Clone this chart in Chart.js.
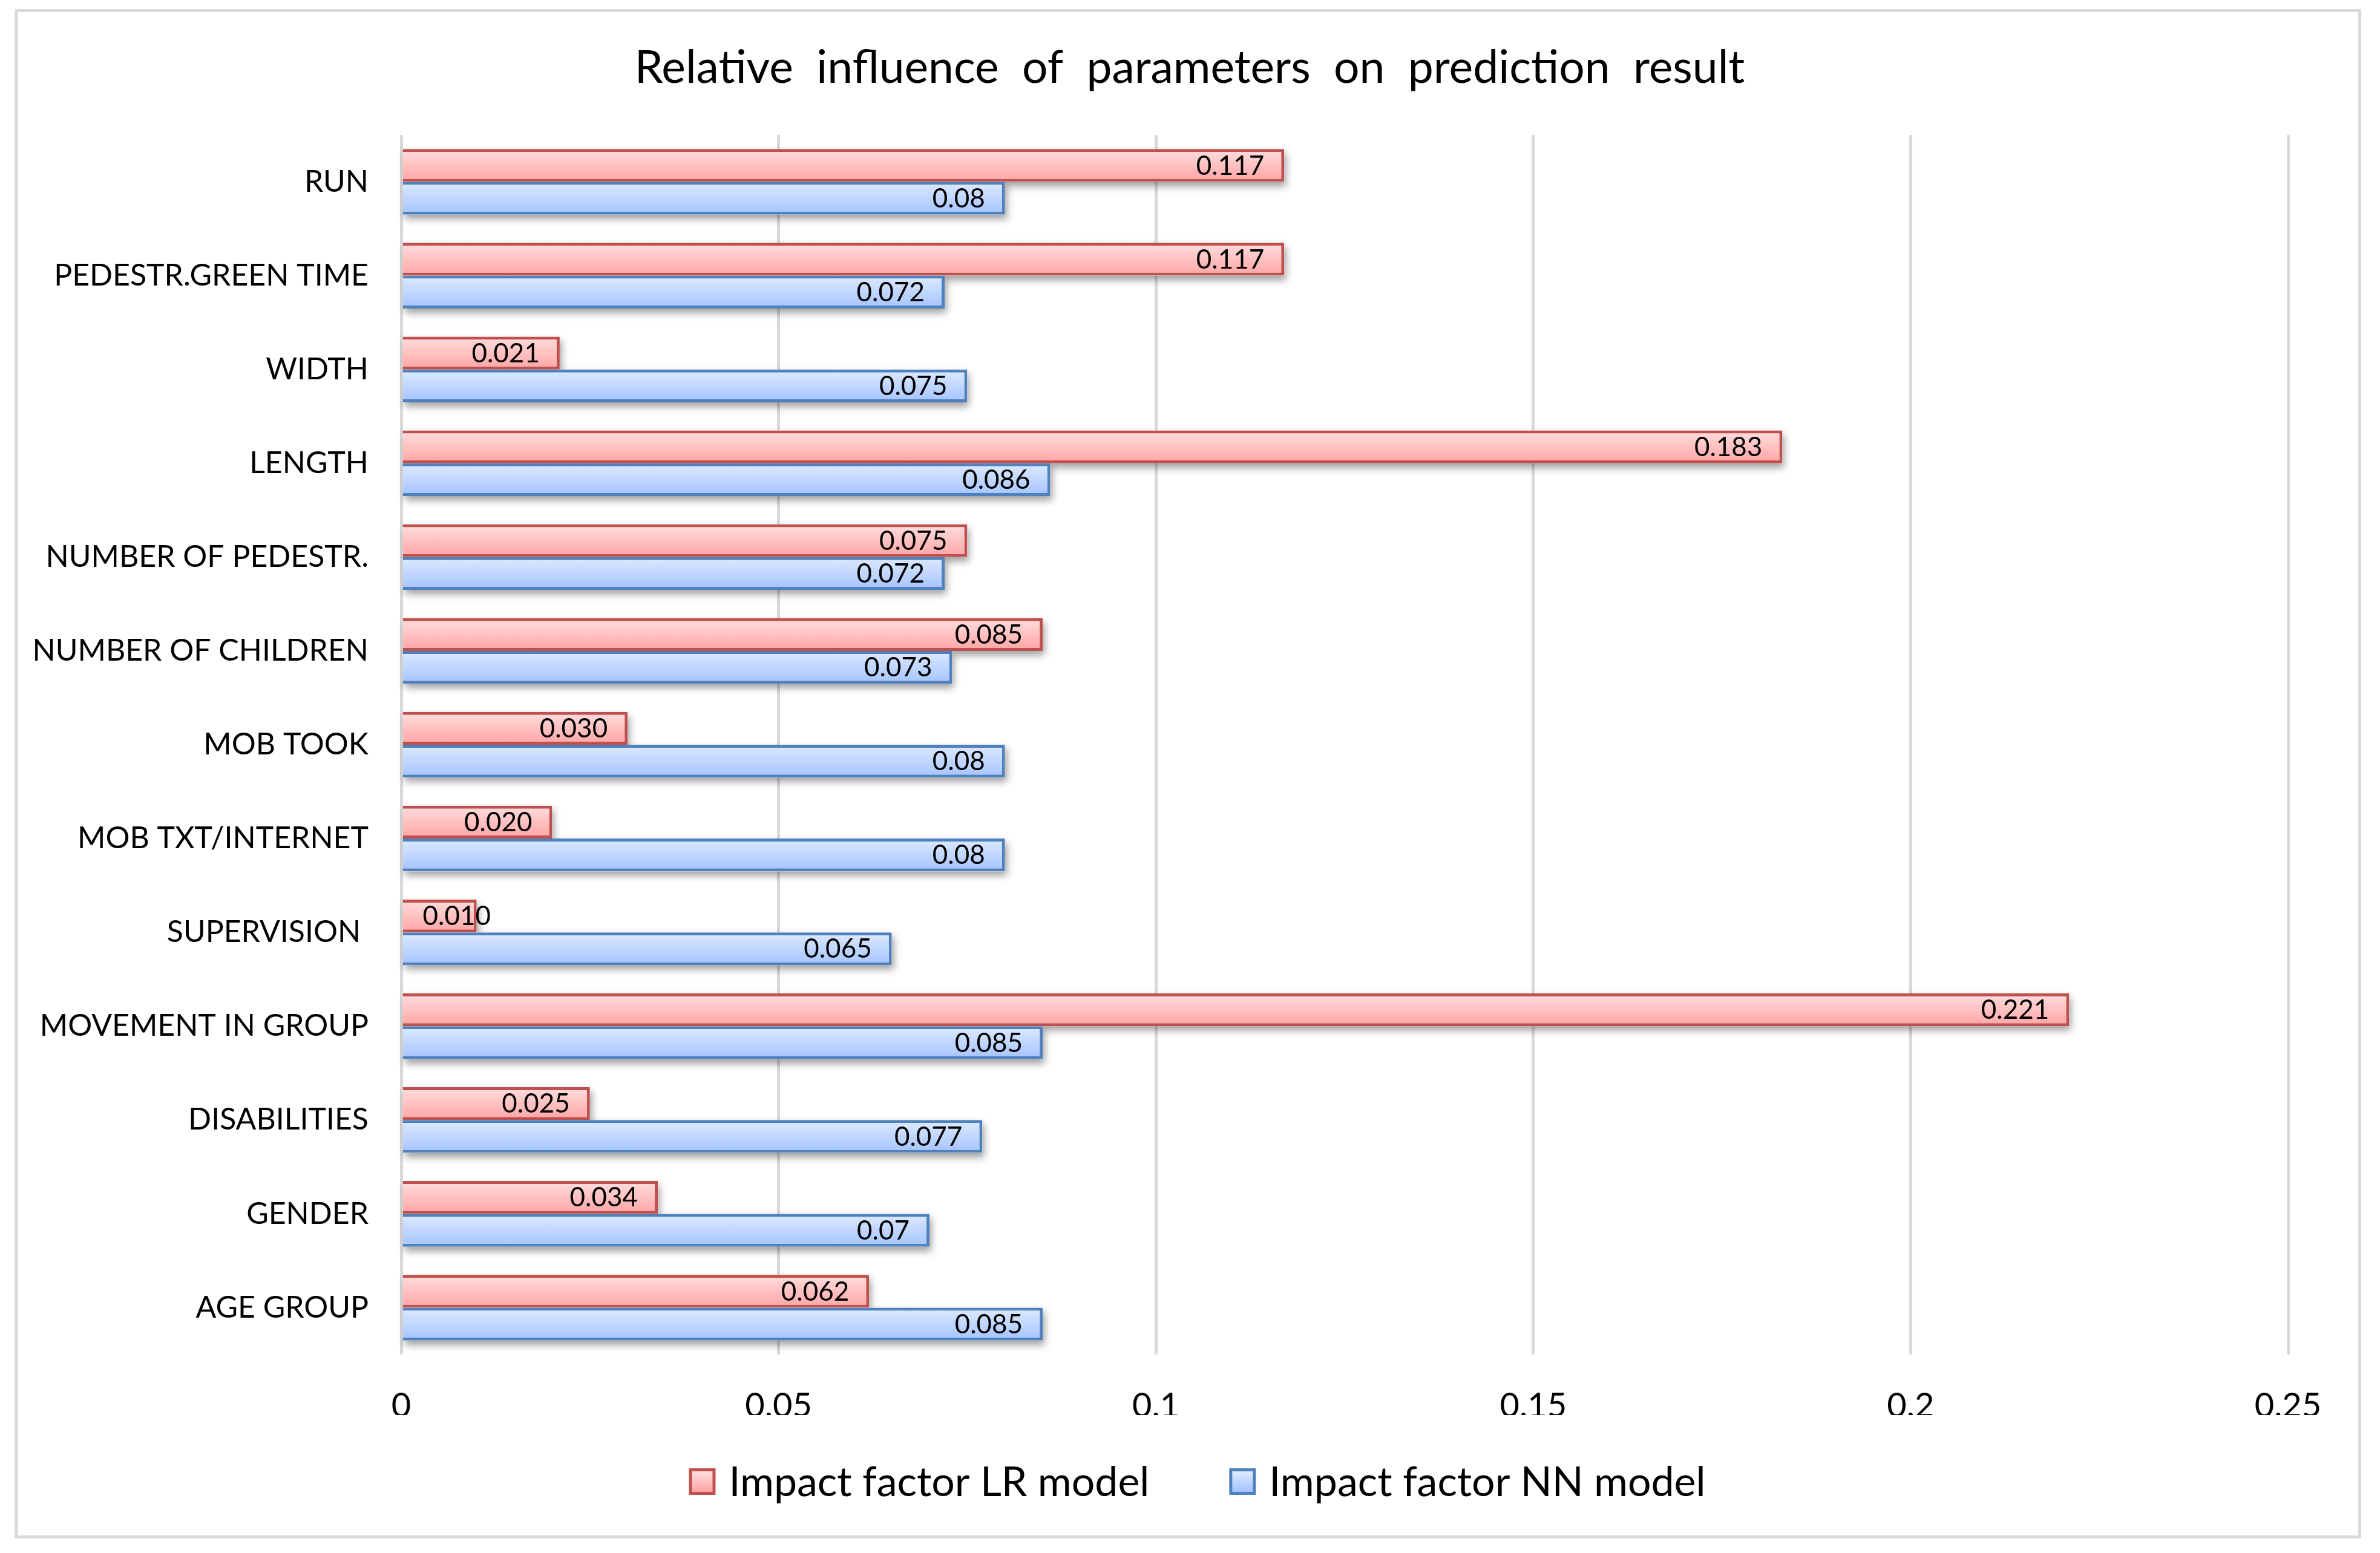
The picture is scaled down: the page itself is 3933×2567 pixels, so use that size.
<!DOCTYPE html>
<html>
<head>
<meta charset="utf-8">
<script src="https://cdn.jsdelivr.net/npm/chart.js@4.4.1/dist/chart.umd.min.js"></script>
<style>
  html, body { margin: 0; padding: 0; background: #fff; }
  #wrap { width: 3933px; height: 2567px; }
</style>
</head>
<body>
<div id="wrap"><canvas id="chart"></canvas></div>
<script>
// categories, top to bottom
const categories = ['RUN', 'PEDESTR.GREEN TIME', 'WIDTH', 'LENGTH', 'NUMBER OF PEDESTR.',
  'NUMBER OF CHILDREN', 'MOB TOOK', 'MOB TXT/INTERNET', 'SUPERVISION ', 'MOVEMENT IN GROUP',
  'DISABILITIES', 'GENDER', 'AGE GROUP'];
const seriesNames = ['Impact factor LR model', 'Impact factor NN model'];
const lrValues = [0.117, 0.117, 0.021, 0.183, 0.075, 0.085, 0.030, 0.020, 0.010, 0.221, 0.025, 0.034, 0.062];
const nnValues = [0.08, 0.072, 0.075, 0.086, 0.072, 0.073, 0.08, 0.08, 0.065, 0.085, 0.077, 0.07, 0.085];
const xTicks = [0, 0.05, 0.1, 0.15, 0.2, 0.25];
const chartTitle = 'Relative  influence  of  parameters  on  prediction  result';

// LR labels keep 3 decimals, NN labels are shortest form
const lrLabels = lrValues.map(v => v.toFixed(3));
const nnLabels = nnValues.map(v => String(v));

const FONT = 'Lato';
const CAT_PCT = 0.7;
const borderColors = ['#C0504D', '#4F81BD'];
const gradStops = [['#FFDEDE', '#FFA4A4'], ['#DEEAFF', '#A3C3FF']];

// vertical gradient for each bar, worked out from the category scale
const barFill = (di) => (c) => {
  const chart = c.chart;
  const y = chart.scales && chart.scales.y;
  if (!y || c.dataIndex === undefined) return gradStops[di][1];
  const center = y.getPixelForValue(c.dataIndex);
  const thick = (y.height / categories.length) * CAT_PCT / 2;
  const top = di === 0 ? center - thick : center;
  if (!isFinite(top) || !isFinite(thick) || thick <= 0) return gradStops[di][1];
  const g = chart.ctx.createLinearGradient(0, top, 0, top + thick);
  g.addColorStop(0, gradStops[di][0]);
  g.addColorStop(1, gradStops[di][1]);
  return g;
};

// background, outer frame and title
const framePlugin = {
  id: 'frame',
  beforeDraw(chart) {
    const ctx = chart.ctx;
    ctx.save();
    ctx.fillStyle = '#fff';
    ctx.fillRect(0, 0, chart.width, chart.height);
    ctx.strokeStyle = '#D9D9D9';
    ctx.lineWidth = 5;
    ctx.strokeRect(27, 17.5, 3872.5, 2523);
    ctx.fillStyle = '#000';
    ctx.font = '75px ' + FONT;
    ctx.textAlign = 'center';
    ctx.textBaseline = 'middle';
    ctx.fillText(chartTitle, 1966, 113);
    ctx.restore();
  }
};

// soft drop shadow under each bar
const shadowPlugin = {
  id: 'barShadow',
  beforeDatasetsDraw(chart) {
    const ctx = chart.ctx;
    chart.data.datasets.forEach((ds, i) => {
      chart.getDatasetMeta(i).data.forEach(bar => {
        const p = bar.getProps(['x', 'y', 'base', 'height'], true);
        ctx.save();
        ctx.shadowColor = 'rgba(0,0,0,0.38)';
        ctx.shadowBlur = 12;
        ctx.shadowOffsetX = 3;
        ctx.shadowOffsetY = 7;
        ctx.fillStyle = '#fff';
        ctx.fillRect(p.base, p.y - p.height / 2, p.x - p.base, p.height);
        ctx.restore();
      });
    });
  }
};

// value labels at the inside end of the bars
const valueLabels = {
  id: 'valueLabels',
  afterDatasetsDraw(chart) {
    const ctx = chart.ctx;
    const texts = [lrLabels, nnLabels];
    ctx.save();
    ctx.font = '44px ' + FONT;
    ctx.fillStyle = '#000';
    ctx.textAlign = 'right';
    ctx.textBaseline = 'middle';
    chart.data.datasets.forEach((ds, i) => {
      chart.getDatasetMeta(i).data.forEach((bar, j) => {
        const p = bar.getProps(['x', 'y', 'base'], true);
        const t = texts[i][j];
        const w = ctx.measureText(t).width;
        const right = Math.max(p.x - 33, p.base + 33 + w);
        ctx.fillText(t, right, p.y + 1);
      });
    });
    ctx.restore();
  }
};

// legend drawn by hand under the axis
const legendPlugin = {
  id: 'ownLegend',
  afterDraw(chart) {
    const ctx = chart.ctx;
    const box = 44, gap = 22, itemGap = 132, cy = 2449;
    ctx.save();
    ctx.font = '68px ' + FONT;
    ctx.textBaseline = 'middle';
    ctx.textAlign = 'left';
    const widths = seriesNames.map(n => box + gap + ctx.measureText(n).width);
    const total = widths.reduce((a, b) => a + b, 0) + itemGap * (seriesNames.length - 1);
    let x = chart.width / 2 + 12 - total / 2;
    seriesNames.forEach((n, i) => {
      const top = cy - box / 2;
      ctx.fillStyle = borderColors[i];
      ctx.fillRect(x, top, box, box);
      const g = ctx.createLinearGradient(0, top + 5, 0, top + box - 5);
      g.addColorStop(0, gradStops[i][0]);
      g.addColorStop(1, gradStops[i][1]);
      ctx.fillStyle = g;
      ctx.fillRect(x + 5, top + 5, box - 10, box - 10);
      ctx.fillStyle = '#000';
      ctx.fillText(n, x + box + gap, cy + 2);
      x += widths[i] + itemGap;
    });
    ctx.restore();
  }
};

const chart = new Chart(document.getElementById('chart'), {
  type: 'bar',
  plugins: [framePlugin, shadowPlugin, valueLabels, legendPlugin],
  data: {
    labels: categories,
    datasets: [
      {
        label: seriesNames[0],
        data: lrValues,
        backgroundColor: barFill(0),
        borderColor: borderColors[0],
        borderWidth: 5,
      },
      {
        label: seriesNames[1],
        data: nnValues,
        backgroundColor: barFill(1),
        borderColor: borderColors[1],
        borderWidth: 5,
      },
    ],
  },
  options: {
    indexAxis: 'y',
    responsive: true,
    maintainAspectRatio: false,
    devicePixelRatio: 1,
    animation: false,
    categoryPercentage: CAT_PCT,
    barPercentage: 1,
    layout: { padding: { left: 0, right: 152, top: 223, bottom: 228 } },
    scales: {
      x: {
        min: xTicks[0],
        max: xTicks[xTicks.length - 1],
        afterBuildTicks: (s) => { s.ticks = xTicks.map(v => ({ value: v })); },
        afterFit: (s) => { s.height = 100; },
        grid: { color: '#D9D9D9', lineWidth: 5, drawTicks: false },
        border: { display: false },
        ticks: {
          padding: 51,
          color: '#000',
          font: { family: FONT, size: 56 },
          callback: (v) => String(+Number(v).toFixed(2)),
        },
      },
      y: {
        afterFit: (s) => { s.width = 663; },
        grid: { display: false, drawTicks: false },
        border: { display: false },
        ticks: {
          padding: 54,
          color: '#000',
          font: { family: FONT, size: 50 },
        },
      },
    },
    plugins: {
      legend: { display: false },
      tooltip: { enabled: false },
      title: { display: false },
    },
  },
});
</script>
</body>
</html>
